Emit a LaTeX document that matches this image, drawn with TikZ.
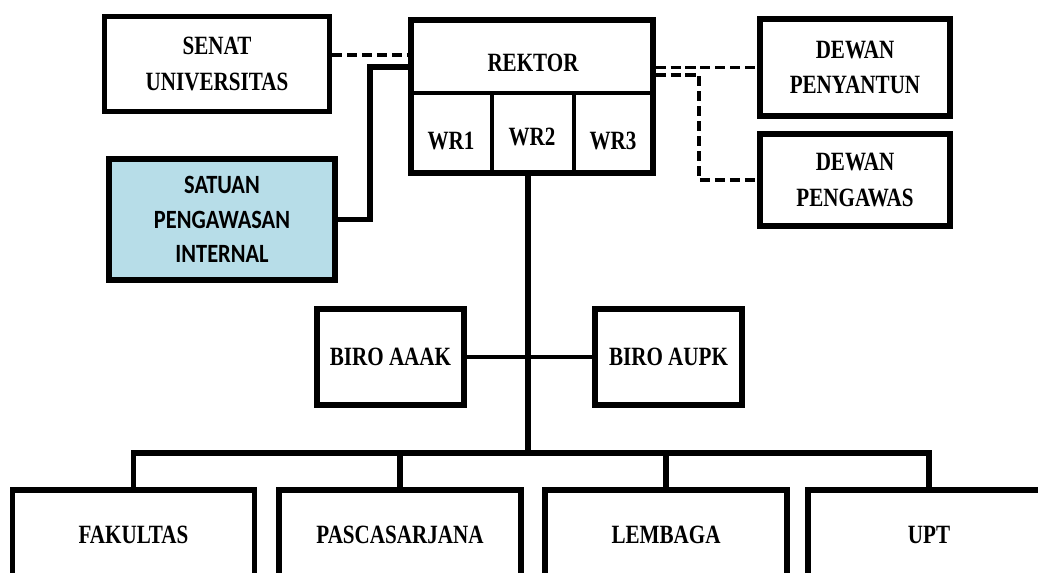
\documentclass[tikz,border=0pt]{standalone}
\usepackage{fontspec}
\setmainfont{Liberation Serif}[FakeStretch=0.8]
\newfontfamily\calib{Carlito}[FakeStretch=0.85]
\definecolor{spi}{HTML}{B7DDE8}
\begin{document}
\begin{tikzpicture}[x=0.02cm,y=-0.02cm,
  lbl/.style={font=\bfseries\fontsize{15}{20}\selectfont, align=center, inner sep=0pt},
  box/.style={lbl, draw, line width=3pt, rectangle},
  conn/.style={line width=3pt},
  thinconn/.style={line width=2pt},
  dashconn/.style={line width=2.2pt, dash pattern=on 5.7pt off 2.8pt},
  divider/.style={line width=1.8pt}]
\useasboundingbox (0,0) rectangle (1038,573);
\clip (0,0) rectangle (1038,573);

% top boxes
\node[box, minimum width=4.5cm, minimum height=1.9cm] (senat) at (217,64) {SENAT\\UNIVERSITAS};
\node[box, minimum width=4.84cm, minimum height=3.06cm] (rektor) at (532,96.5) {};
\node[box, minimum width=3.8cm, minimum height=1.94cm] (penyantun) at (855,67.5) {DEWAN\\PENYANTUN};
\node[box, minimum width=3.8cm, minimum height=1.84cm] (pengawas) at (855,180) {DEWAN\\PENGAWAS};
\node[box, fill=spi, font=\calib\bfseries\fontsize{15}{19.5}\selectfont, minimum width=4.52cm, minimum height=2.42cm] (satuan) at (222,219.5) {SATUAN\\PENGAWASAN\\INTERNAL};

% rektor internals
\node[lbl] (rektorlbl) at (533,63) {REKTOR};
\coordinate (dv) at (0,93);
\draw[divider] (rektor.west |- dv) -- (rektor.east |- dv);
\coordinate (c1) at (492,93);
\coordinate (c2) at (574,93);
\draw[divider] (c1) -- (c1 |- rektor.south);
\draw[divider] (c2) -- (c2 |- rektor.south);
\node[lbl] (wr1) at (451,141) {WR1};
\node[lbl] (wr2) at (532,137) {WR2};
\node[lbl] (wr3) at (613,141) {WR3};

% biro
\node[box, minimum width=2.94cm, minimum height=1.92cm] (aaak) at (390.5,357) {BIRO AAAK};
\node[box, minimum width=2.94cm, minimum height=1.92cm] (aupk) at (668.5,357) {BIRO AUPK};

% bottom boxes
\node[box, minimum width=4.84cm, minimum height=1.8cm] (fak) at (133.5,535) {FAKULTAS};
\node[box, minimum width=4.84cm, minimum height=1.8cm] (pasca) at (400,535) {PASCASARJANA};
\node[box, minimum width=4.84cm, minimum height=1.8cm] (lembaga) at (666,535) {LEMBAGA};
\node[box, minimum width=4.84cm, minimum height=1.8cm] (upt) at (929,535) {UPT};

% connectors
\coordinate (bus) at (528,453);
\draw[conn] (rektor.south -| bus) -- (bus);
\draw[conn] (fak.north) |- (bus) -| (upt.north);
\draw[conn] (pasca.north) -- (pasca.north |- bus);
\draw[conn] (lembaga.north) -- (lembaga.north |- bus);
\draw[thinconn] (aaak.east) -- (aupk.west);

\coordinate (j1) at (370,67);
\draw[conn] (rektor.west |- j1) -- (j1) |- (satuan.east);

\coordinate (d1) at (0,55);
\draw[dashconn] (senat.east |- d1) -- (rektor.west |- d1);
\draw[dashconn] (rektor.east |- penyantun.west) -- (penyantun.west);
\coordinate (d2) at (699,75);
\draw[dashconn] (rektor.east |- d2) -- (d2) |- (pengawas.west);
\end{tikzpicture}
\end{document}
